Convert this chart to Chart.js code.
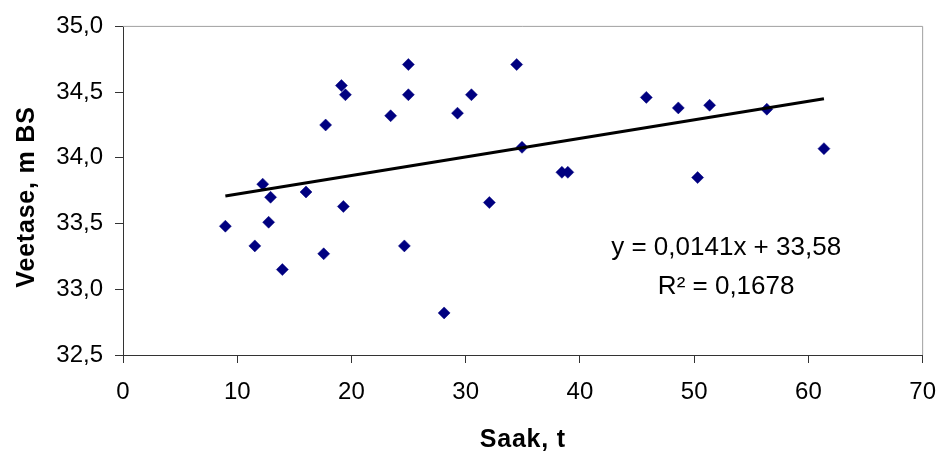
<!DOCTYPE html>
<html>
<head>
<meta charset="utf-8">
<script src="https://cdn.jsdelivr.net/npm/chart.js@4/dist/chart.umd.min.js"></script>
<style>
  body { margin: 0; background: #fff; }
  #wrap { width: 951px; height: 453px; }
</style>
</head>
<body>
<div id="wrap"><canvas id="chart" width="951" height="453"></canvas></div>
<script>
// Saak (t) vs Veetase (m BS)
const saak = [8.96, 11.54, 12.23, 12.75, 12.92, 13.95, 16.02, 17.57, 17.74, 19.12, 19.29, 19.47, 23.43, 24.63, 24.98,
    24.98, 28.11, 29.28, 30.50, 32.07, 34.46, 34.93, 38.42, 38.94, 45.81, 48.61, 50.30, 51.35, 56.36, 61.36];
const veetase = [33.48, 33.33, 33.80, 33.51, 33.70, 33.15, 33.74, 33.27, 34.25, 34.55, 33.63, 34.48, 34.32, 33.33, 34.71,
    34.48, 32.82, 34.34, 34.48, 33.66, 34.71, 34.08, 33.89, 33.89, 34.46, 34.38, 33.85, 34.40, 34.37, 34.07];

// linear trendline ends
const trendX = [8.96, 61.36];
const trendY = [33.71, 34.45];

const eqLines = ["y = 0,0141x + 33,58", "R\u00B2 = 0,1678"];
const xTitle = "Saak, t";
const yTitle = "Veetase, m BS";

const fontFamily = "'Liberation Sans', Arial, sans-serif";

const extras = {
    id: "extras",
    beforeDatasetsDraw(chart) {
        const a = chart.chartArea;
        const ctx = chart.ctx;
        ctx.save();
        ctx.strokeStyle = "#a0a0a0";
        ctx.lineWidth = 1;
        ctx.beginPath();
        ctx.moveTo(a.left, a.top);
        ctx.lineTo(a.right, a.top);
        ctx.lineTo(a.right, a.bottom);
        ctx.stroke();
        ctx.restore();
    },
    afterDraw(chart) {
        const ctx = chart.ctx;
        const a = chart.chartArea;
        const xs = chart.scales.x;
        const ys = chart.scales.y;

        // trendline equation
        const cx = xs.getPixelForValue(52.8);
        ctx.save();
        ctx.fillStyle = "#000";
        ctx.font = "26px " + fontFamily;
        ctx.textAlign = "center";
        ctx.textBaseline = "middle";
        ctx.fillText(eqLines[0], cx, ys.getPixelForValue(33.316));
        ctx.fillText(eqLines[1], cx, ys.getPixelForValue(33.02));
        ctx.restore();

        // axis titles
        ctx.save();
        ctx.fillStyle = "#000";
        ctx.font = "bold 25px " + fontFamily;
        ctx.letterSpacing = "0.8px";
        ctx.textAlign = "center";
        ctx.textBaseline = "alphabetic";
        ctx.fillText(xTitle, (a.left + a.right) / 2, 446.5);
        ctx.translate(33.5, 197);
        ctx.rotate(-Math.PI / 2);
        ctx.fillText(yTitle, 0, 0);
        ctx.restore();
    }
};

new Chart(document.getElementById("chart"), {
    type: "scatter",
    data: {
        datasets: [
            {
                type: "line",
                label: "Trend",
                data: trendX.map((x, i) => ({ x: x, y: trendY[i] })),
                borderColor: "#000",
                borderWidth: 3,
                pointRadius: 0,
                fill: false,
                order: 0,
            },
            {
                label: "Veetase",
                data: saak.map((x, i) => ({ x: x, y: veetase[i] })),
                pointStyle: "rectRot",
                pointRadius: 6,
                pointBorderWidth: 0.5,
                backgroundColor: "#000080",
                borderColor: "#000080",
                order: 1,
            },
        ],
    },
    options: {
        responsive: false,
        animation: false,
        layout: { padding: { top: 23, right: 15, left: 0, bottom: 0 } },
        plugins: {
            legend: { display: false },
            tooltip: { enabled: false },
        },
        scales: {
            x: {
                type: "linear",
                min: 0,
                max: 70,
                afterFit: (s) => { s.height = 98; },
                ticks: {
                    stepSize: 10,
                    color: "#000",
                    padding: 15,
                    font: { family: fontFamily, size: 24 },
                },
                grid: { drawOnChartArea: false, tickLength: 8, color: "#333" },
                border: { color: "#333", width: 1 },
            },
            y: {
                min: 32.5,
                max: 35,
                afterFit: (s) => { s.width = 123; },
                ticks: {
                    stepSize: 0.5,
                    color: "#000",
                    padding: 12,
                    font: { family: fontFamily, size: 24 },
                    callback: (v) => v.toFixed(1).replace(".", ","),
                },
                grid: { drawOnChartArea: false, tickLength: 8, color: "#333" },
                border: { color: "#333", width: 1 },
            },
        },
    },
    plugins: [extras],
});
</script>
</body>
</html>
